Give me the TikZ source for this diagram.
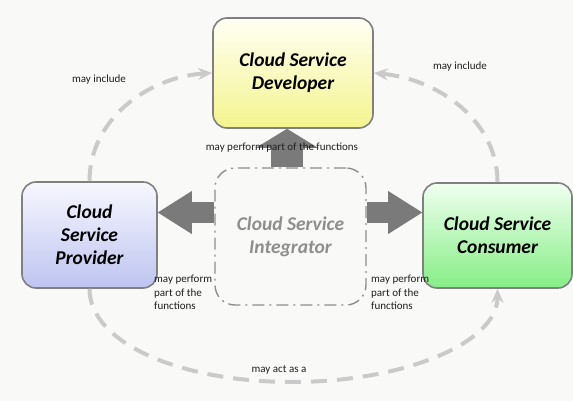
\documentclass[tikz,border=0pt]{standalone}
\usepackage{fontspec}
\setmainfont{Carlito}
\usetikzlibrary{arrows.meta}

\definecolor{arcgray}{HTML}{CACACA}
\definecolor{arrowgray}{HTML}{7A7A7A}
\definecolor{boxline}{HTML}{808080}
\definecolor{intgray}{HTML}{8E8E8E}
\definecolor{bgpaper}{HTML}{F9F9F7}
\definecolor{devlow}{HTML}{F4F48E}
\definecolor{provlow}{HTML}{BEC4F0}
\definecolor{conslow}{HTML}{86EE86}

\tikzset{
  role/.style={draw=boxline, line width=1.6pt, rounded corners=14pt, align=center,
    inner sep=0pt, font=\fontsize{19.5}{23}\selectfont\bfseries\itshape},
  note/.style={inner sep=0pt, text=black!88, font=\fontsize{11}{13.5}\selectfont},
  relation/.style={arcgray, line width=4pt, dash pattern=on 16pt off 10pt,
    -{Stealth[length=14pt,width=12pt]}},
  bigarrow/.style={arrowgray, line width=21pt,
    -{Triangle[length=34pt,width=43pt,line width=0pt]}}
}

\begin{document}
\begin{tikzpicture}[x=1pt,y=-1pt]
      \fill[bgpaper] (0,0) rectangle (573,401);
      \useasboundingbox (0,0) rectangle (573,401);

      \node[role, minimum width=160pt, minimum height=110pt,
        top color=yellow!4!white, bottom color=devlow] (dev) at (293,73)
        {Cloud Service\\Developer};
      \node[role, minimum width=135pt, minimum height=106pt,
        top color=blue!3!white, bottom color=provlow] (prov) at (89.5,235)
        {Cloud\\Service\\Provider};
      \node[role, minimum width=149pt, minimum height=105pt,
        top color=green!6!white, bottom color=conslow] (cons) at (497.5,235.5)
        {Cloud Service\\Consumer};
      \node[role, draw=intgray, line width=1.4pt, rounded corners=20pt, text=intgray,
        dash pattern=on 12pt off 5pt on 2pt off 5pt,
        minimum width=151pt, minimum height=137pt] (integ) at (290.5,236.5)
        {Cloud Service\\Integrator};

      \coordinate (low) at (292,382);
      \draw[relation] (prov.north) .. controls +(0,-62) and +(-64,4) .. (dev.west);
      \draw[relation] (cons.north) .. controls +(0,-62) and +(64,6) .. (dev.east);
      \draw[relation] (prov.south) .. controls +(0,54) and +(-112,0) .. (low)
        .. controls +(112,0) and +(0,54) .. (cons.south);

      \draw[bigarrow, line width=32pt,
        -{Triangle[length=19pt,width=62pt,line width=0pt]}]
        ([xshift=-6pt]dev.south |- integ.north) -- ([xshift=-6pt]dev.south);
      \draw[bigarrow] ([yshift=24pt]integ.west) -- ([yshift=24pt]integ.west -| prov.east);
      \draw[bigarrow] ([yshift=24pt]integ.east) -- ([yshift=24pt]integ.east -| cons.west);

      \node[note] (incl-l) at (99,80) {may include};
      \node[note] (incl-r) at (460,67) {may include};
      \node[note] (perf-d) at (282,148) {may perform part of the functions};
      \node[note, anchor=west, align=left] (perf-p) at (154,292.5) {may perform\\part of the\\functions};
      \node[note, anchor=west, align=left] (perf-c) at (371,292.5) {may perform\\part of the\\functions};
      \node[note] (act) at (279,370) {may act as a};
\end{tikzpicture}
\end{document}
